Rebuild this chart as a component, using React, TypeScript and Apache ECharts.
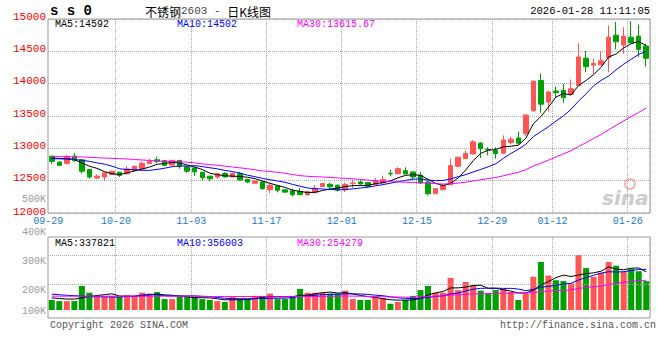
import React, { useEffect, useRef } from 'react';
import * as echarts from 'echarts';

const dates = ['09-29','09-30','10-09','10-10','10-13','10-14','10-15','10-16','10-17','10-20','10-21','10-22','10-23','10-24','10-27','10-28','10-29','10-30','10-31','11-03','11-04','11-05','11-06','11-07','11-10','11-11','11-12','11-13','11-14','11-17','11-18','11-19','11-20','11-21','11-24','11-25','11-26','11-27','11-28','12-01','12-02','12-03','12-04','12-05','12-08','12-09','12-10','12-11','12-12','12-15','12-16','12-17','12-18','12-19','12-22','12-23','12-24','12-25','12-26','12-29','12-30','12-31','01-05','01-06','01-07','01-08','01-09','01-12','01-13','01-14','01-15','01-16','01-19','01-20','01-21','01-22','01-23','01-26','01-27','01-28'];
const labelDates = ['09-29','10-20','11-03','11-17','12-01','12-15','12-29','01-12','01-26'];

const opens = [12879,12788,12768,12879,12823,12672,12540,12556,12596,12631,12606,12656,12682,12763,12823,12808,12742,12813,12717,12697,12631,12570,12556,12611,12556,12606,12520,12460,12480,12358,12419,12358,12343,12333,12283,12318,12409,12444,12429,12358,12460,12480,12470,12438,12464,12610,12609,12655,12635,12583,12479,12298,12360,12438,12723,12842,12914,13080,12982,12965,12925,13090,13160,13230,13581,14048,13718,13886,13896,13835,13972,14394,14287,14292,14404,14750,14597,14719,14734,14582];
const closes = [12798,12737,12874,12808,12646,12556,12570,12621,12646,12581,12682,12722,12768,12798,12798,12737,12813,12722,12646,12636,12545,12530,12606,12560,12611,12510,12480,12495,12379,12429,12353,12323,12283,12283,12333,12384,12455,12404,12353,12444,12465,12450,12412,12500,12515,12605,12686,12604,12557,12464,12298,12376,12428,12733,12863,12920,13100,12995,12975,12920,13130,13140,13080,13515,14038,13683,13871,13861,13784,13922,14414,14262,14313,14353,14719,14648,14734,14633,14531,14394];
const lows = [12758,12730,12747,12788,12606,12530,12530,12505,12586,12556,12596,12646,12656,12758,12768,12722,12732,12682,12621,12570,12505,12495,12530,12545,12556,12505,12465,12450,12358,12303,12318,12313,12257,12283,12262,12300,12409,12368,12333,12323,12386,12430,12412,12428,12464,12567,12594,12604,12515,12448,12272,12298,12350,12427,12708,12842,12904,12850,12893,12840,12910,13060,13050,13190,13566,13551,13566,13790,13703,13820,13972,14176,14150,14280,14176,14531,14465,14620,14414,14262];
const highs = [12884,12795,12899,12929,12828,12677,12596,12626,12656,12636,12727,12732,12798,12838,12869,12823,12823,12823,12717,12707,12631,12570,12621,12631,12631,12636,12530,12510,12495,12460,12419,12368,12379,12384,12343,12429,12470,12470,12444,12470,12515,12515,12480,12541,12578,12665,12707,12707,12645,12635,12500,12386,12448,12842,12863,12966,13127,13096,13018,13018,13200,13180,13260,13525,14048,14160,13896,13957,13998,14064,14623,14506,14389,14506,14902,14953,14872,14963,14912,14618];
const volumes = [145000,141000,141000,141000,193000,170000,156000,156000,156000,156000,162000,156000,170000,167000,172000,148000,148000,156000,156000,156000,148000,145000,141000,138000,156000,148000,148000,159000,159000,167000,148000,148000,159000,183000,170000,170000,170000,167000,167000,177000,148000,145000,145000,156000,151000,132000,138000,145000,159000,179000,193000,170000,170000,221000,179000,207000,195000,177000,167000,179000,183000,172000,145000,167000,225000,276000,229000,213000,210000,202000,300000,255000,225000,239000,276000,263000,242000,252000,244000,210000];

const ma5Head = [12850,12843,12838,12828];
const ma10Head = [12840,12838,12836,12828,12815,12798,12775,12755,12725];
const ma30Head = [12875,12872,12870,12868,12866,12862,12855,12850,12845,12840,12835,12828,12820,12812,12806,12800,12797,12793,12785,12775,12760,12748,12738,12725,12712,12698,12685,12668,12650];
const volMa5Head = [152000,150000,148000,148000];
const volMa10Head = [165000,163000,161000,160000,158000,157000,156000,156000,155000];
const volMa30Head = [158000,158000,158000,158000,158000,158000,158000,158000,158000,158000,158000,158000,158000,158000,158000,158000,158000,158000,158000,158000,157000,157000,157000,157000,157000,157000,157000,157000,157000];

const priceTicks = [12000, 15000, 500];
const volLabelTicks = [100000, 500000, 100000];
const volGridLines = [200000, 300000];

function movingAvg(arr: number[], n: number, head: number[]) {
  return arr.map((_, i) => {
    if (i < n - 1) return head[i];
    let s = 0;
    for (let k = i - n + 1; k <= i; k++) s += arr[k];
    return +(s / n).toFixed(2);
  });
}

const MONO = '"Liberation Mono", "DejaVu Sans Mono", monospace';
const RED = '#ff5555';
const GREEN = '#00a000';
const PX_PER_VOL = 0.29 / 1000; // pixels per unit of volume in the volume panel

export default function App() {
  const ref = useRef<HTMLDivElement>(null);
  useEffect(() => {
    if (!ref.current) return;
    const chart = echarts.init(ref.current, null, { renderer: 'svg' });
    const labelIdx = new Set(labelDates.map((d) => dates.indexOf(d)));
    const showIdx = (i: number) => labelIdx.has(i);
    const ohlc = dates.map((_, i) => [opens[i], closes[i], lows[i], highs[i]]);
    const volData = volumes.map((v, i) => ({
      value: v,
      itemStyle: { color: closes[i] >= opens[i] ? RED : GREEN },
    }));
    const ma5 = movingAvg(closes, 5, ma5Head);
    const ma10 = movingAvg(closes, 10, ma10Head);
    const ma30 = movingAvg(closes, 30, ma30Head);
    const vma5 = movingAvg(volumes, 5, volMa5Head);
    const vma10 = movingAvg(volumes, 10, volMa10Head);
    const vma30 = movingAvg(volumes, 30, volMa30Head);
    const lineS = (data: number[], color: string, xi: number, yi: number) => ({
      type: 'line', data, xAxisIndex: xi, yAxisIndex: yi, symbol: 'none', silent: true,
      lineStyle: { color, width: 1 }, z: 5,
    });
    const dotted = { type: 'dotted', color: '#a8a8a8', width: 1 };
    const txt = (x: number, y: number, text: string, fill: string, extra: any = {}) => ({
      type: 'text', x, y, silent: true,
      style: { text, fill, font: `10px ${MONO}`, textVerticalAlign: 'middle', ...extra },
    });
    // volume panel: top 237, bars' base at 310, 100K line at 313
    const volTop = 237, volBase = 310, vol100Y = 313;
    const volMin = volLabelTicks[0] + (vol100Y - volBase) / PX_PER_VOL;
    const volMax = volLabelTicks[0] + (vol100Y - volTop) / PX_PER_VOL;
    const labTop = vol100Y - (volLabelTicks[1] - volLabelTicks[0]) * PX_PER_VOL;
    chart.setOption({
      animation: false,
      backgroundColor: '#ffffff',
      grid: [
        { left: 48, top: 19, width: 602, height: 194, show: true, borderColor: '#999', borderWidth: 1 },
        { left: 48, top: volTop, width: 602, height: volBase - volTop, show: false },
        { left: 48, top: labTop, width: 602, height: vol100Y - labTop, show: false },
      ],
      xAxis: [
        {
          type: 'category', data: dates, gridIndex: 0, boundaryGap: true,
          axisLine: { show: false }, axisTick: { show: false },
          axisLabel: { color: '#1a7ad4', fontFamily: MONO, fontSize: 10, margin: 3, interval: (i: number) => showIdx(i), padding: [0, 7, 0, 0] },
          splitLine: { show: true, interval: (i: number) => showIdx(i) && i > 0, lineStyle: dotted },
        },
        {
          type: 'category', data: dates, gridIndex: 1, boundaryGap: true,
          axisLine: { show: false }, axisTick: { show: false }, axisLabel: { show: false },
          splitLine: { show: true, interval: (i: number) => showIdx(i) && i > 0, lineStyle: dotted },
        },
        { type: 'value', gridIndex: 2, min: 0, max: 1, show: false },
      ],
      yAxis: [
        {
          type: 'value', gridIndex: 0, min: priceTicks[0], max: priceTicks[1], interval: priceTicks[2],
          axisLine: { show: false }, axisTick: { show: false },
          axisLabel: {
            color: '#ff0000', fontFamily: MONO, fontSize: 11, margin: 2,
            formatter: (v: number) => (v === priceTicks[0] ? '{lo|' + v + '}' : '{hi|' + v + '}'),
            rich: {
              hi: { color: '#ff0000', fontFamily: MONO, fontSize: 11, padding: [0, 0, 5, 0] },
              lo: { color: '#ff0000', fontFamily: MONO, fontSize: 11, padding: [0, 0, 2, 0] },
            },
          },
          splitLine: { show: true, lineStyle: dotted },
        },
        {
          type: 'value', gridIndex: 1, min: volMin, max: volMax,
          axisLine: { show: false }, axisTick: { show: false }, axisLabel: { show: false },
          splitLine: { show: false },
        },
        {
          type: 'value', gridIndex: 2, min: volLabelTicks[0], max: volLabelTicks[1], interval: volLabelTicks[2],
          axisLine: { show: false }, axisTick: { show: false }, splitLine: { show: false },
          axisLabel: {
            color: '#999', fontFamily: MONO, fontSize: 10, margin: 2,
            formatter: (v: number) => {
              const t = v / 1000 + 'K';
              if (v === volLabelTicks[0]) return '{b|' + t + '}';
              if (v === volLabelTicks[1]) return '{t|' + t + '}';
              return '{m|' + t + '}';
            },
            rich: {
              b: { color: '#999', fontFamily: MONO, fontSize: 10, padding: [0, 0, 4, 0] },
              t: { color: '#999', fontFamily: MONO, fontSize: 10, padding: [4, 0, 0, 0] },
              m: { color: '#999', fontFamily: MONO, fontSize: 10, padding: [12, 0, 0, 0] },
            },
          },
        },
      ],
      series: [
        {
          type: 'candlestick', data: ohlc, xAxisIndex: 0, yAxisIndex: 0, barWidth: 5,
          itemStyle: { color: RED, color0: GREEN, borderColor: RED, borderColor0: GREEN, borderWidth: 1 },
        },
        lineS(ma5, '#000000', 0, 0),
        lineS(ma10, '#0000ff', 0, 0),
        lineS(ma30, '#ff00ff', 0, 0),
        {
          type: 'bar', data: volData, xAxisIndex: 1, yAxisIndex: 1, barWidth: 6,
          markLine: {
            silent: true, symbol: 'none', label: { show: false },
            lineStyle: dotted,
            data: volGridLines.map((v) => ({ yAxis: v })),
          },
        },
        lineS(vma5, '#000000', 1, 1),
        lineS(vma10, '#0000ff', 1, 1),
        lineS(vma30, '#ff00ff', 1, 1),
      ],
      graphic: [
        { type: 'rect', silent: true, shape: { x: 48, y: volTop, width: 602, height: 81 }, style: { fill: 'none', stroke: '#999', lineWidth: 1 } },
        txt(50, 11, 's s 0', '#000', { font: `bold 14px ${MONO}` }),
        {
          type: 'text', x: 208, y: 11, silent: true,
          style: {
            text: '{a|不锈钢}{b|2603 - }{a|日K线图}', textAlign: 'center', textVerticalAlign: 'middle',
            rich: {
              a: { fontFamily: '"Noto Sans CJK SC"', fontSize: 12, fill: '#000' },
              b: { fontFamily: MONO, fontSize: 11, fill: '#444' },
            },
          },
        },
        txt(650, 11, '2026-01-28 11:11:05', '#000', { textAlign: 'right', font: `10.5px ${MONO}` }),
        txt(55, 24, 'MA5:14592', '#000'),
        txt(177, 24, 'MA10:14502', '#0000ff'),
        txt(297, 24, 'MA30:13615.67', '#ff00ff'),
        txt(55, 243, 'MA5:337821', '#000'),
        txt(177, 243, 'MA10:356003', '#0000ff'),
        txt(297, 243, 'MA30:254279', '#ff00ff'),
        txt(50, 325, 'Copyright 2026 SINA.COM', '#555'),
        txt(656, 325, 'http://finance.sina.com.cn', '#555', { textAlign: 'right' }),
        { type: 'circle', silent: true, shape: { cx: 630, cy: 184, r: 5 }, style: { fill: 'none', stroke: '#f4b8b8', lineWidth: 2 } },
        txt(602, 198, 'sina', '#cccccc', { font: `italic bold 20px "DejaVu Sans", sans-serif` }),
      ],
    });
    return () => chart.dispose();
  }, []);
  return <div ref={ref} style={{ position: 'absolute', left: 0, top: 0, width: 660, height: 360 }} />;
}
